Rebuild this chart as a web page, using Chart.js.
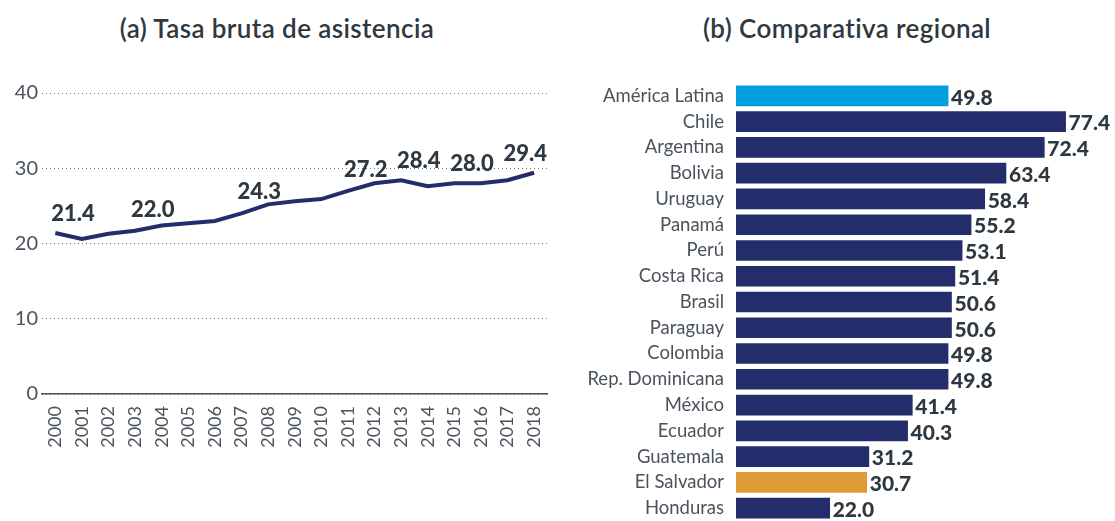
<!DOCTYPE html>
<html>
<head>
<meta charset="utf-8">
<script src="https://cdn.jsdelivr.net/npm/chart.js@4.4.0/dist/chart.umd.min.js"></script>
<style>
  body { margin: 0; background: #fff; font-family: Lato, sans-serif; }
  .title { position: absolute; top: 12px; font-size: 26px; font-weight: 600; color: #2e3841; text-align: center; letter-spacing: 0.4px; }
</style>
</head>
<body>
<div class="title" style="left:0;width:554px;">(a) Tasa bruta de asistencia</div>
<div class="title" style="left:570px;width:554px;">(b) Comparativa regional</div>
<canvas id="lineChart" width="560" height="521" style="position:absolute;left:0;top:0;"></canvas>
<canvas id="barChart" width="545" height="521" style="position:absolute;left:570px;top:0;"></canvas>
<script>
// (a) serie anual
var years = ['2000','2001','2002','2003','2004','2005','2006','2007','2008','2009',
             '2010','2011','2012','2013','2014','2015','2016','2017','2018'];
var tasa = [21.4, 20.6, 21.3, 21.7, 22.4, 22.7, 23.0, 24.0, 25.2, 25.6,
            25.9, 27.0, 28.0, 28.4, 27.6, 28.0, 28.0, 28.4, 29.4];
var yTicks = [0, 10, 20, 30, 40];
// etiquetas sobre la linea
var labelIdx = [0, 3, 7, 11, 13, 15, 17];
var labelVals = [21.4, 22.0, 24.3, 27.2, 28.4, 28.0, 29.4];

// (b) comparativa regional
var paises = ['América Latina','Chile','Argentina','Bolivia','Uruguay','Panamá','Perú',
              'Costa Rica','Brasil','Paraguay','Colombia','Rep. Dominicana','México',
              'Ecuador','Guatemala','El Salvador','Honduras'];
var valores = [49.8, 77.4, 72.4, 63.4, 58.4, 55.2, 53.1, 51.4, 50.6, 50.6, 49.8, 49.8,
               41.4, 40.3, 31.2, 30.7, 22.0];

var navy = '#232d6b';
var textDark = '#2e3841';
var tickGray = '#4a535d';

var barColors = paises.map(function (p) {
    if (p === 'América Latina') return '#009fe0';
    if (p === 'El Salvador') return '#e09a36';
    return navy;
});

var lineLabels = {
    id: 'lineLabels',
    afterDatasetsDraw: function (chart) {
        var ctx = chart.ctx;
        var xs = chart.scales.x, ys = chart.scales.y;
        ctx.save();
        ctx.font = '900 22px Lato';
        ctx.fillStyle = textDark;
        ctx.textAlign = 'left';
        ctx.textBaseline = 'middle';
        for (var i = 0; i < labelIdx.length; i++) {
            var x = xs.getPixelForValue(labelIdx[i]) - 4;
            var y = ys.getPixelForValue(labelVals[i]) - 19;
            ctx.fillText(labelVals[i].toFixed(1), x, y);
        }
        ctx.restore();
    }
};

var barLabels = {
    id: 'barLabels',
    afterDatasetsDraw: function (chart) {
        var ctx = chart.ctx;
        var meta = chart.getDatasetMeta(0);
        ctx.save();
        ctx.font = '900 21px Lato';
        ctx.fillStyle = textDark;
        ctx.textAlign = 'left';
        ctx.textBaseline = 'middle';
        meta.data.forEach(function (bar, i) {
            ctx.fillText(valores[i].toFixed(1), bar.x + 3, bar.y + 2);
        });
        ctx.restore();
    }
};

new Chart(document.getElementById('lineChart').getContext('2d'), {
    type: 'line',
    data: {
        labels: years,
        datasets: [{
            data: tasa,
            borderColor: navy,
            borderWidth: 4,
            pointRadius: 0,
            tension: 0,
            fill: false
        }]
    },
    options: {
        responsive: false,
        animation: false,
        layout: { padding: { top: 93, right: 12, left: 0, bottom: 0 } },
        plugins: { legend: { display: false }, tooltip: { enabled: false } },
        scales: {
            x: {
                offset: true,
                grid: { display: false },
                border: { display: true, color: '#4a535d', width: 1.5 },
                ticks: {
                    color: tickGray,
                    font: { family: 'Lato', size: 18 },
                    maxRotation: 90,
                    minRotation: 90,
                    padding: 4,
                    autoSkip: false
                },
                afterFit: function (scale) { scale.height = 127; }
            },
            y: {
                min: 0,
                max: 40,
                afterBuildTicks: function (scale) {
                    scale.ticks = yTicks.map(function (v) { return { value: v }; });
                },
                grid: {
                    color: '#6b7178',
                    lineWidth: 1,
                    drawTicks: false
                },
                border: { display: false, dash: [1, 3] },
                ticks: {
                    color: tickGray,
                    font: { family: 'Lato', size: 20 },
                    padding: 4
                },
                afterFit: function (scale) { scale.width = 42; }
            }
        }
    },
    plugins: [lineLabels]
});

new Chart(document.getElementById('barChart').getContext('2d'), {
    type: 'bar',
    data: {
        labels: paises,
        datasets: [{
            data: valores,
            backgroundColor: barColors,
            barThickness: 20
        }]
    },
    options: {
        indexAxis: 'y',
        responsive: false,
        animation: false,
        layout: { padding: { top: 83, right: 0, left: 0, bottom: 0 } },
        plugins: { legend: { display: false }, tooltip: { enabled: false } },
        scales: {
            x: { display: false, min: 0, max: 89 },
            y: {
                grid: { display: false, drawTicks: false },
                border: { display: false },
                ticks: {
                    color: tickGray,
                    font: { family: 'Lato', size: 18.5 },
                    padding: 12,
                    autoSkip: false
                },
                afterFit: function (scale) {
                    scale.width = 166;
                    scale.paddingTop = 0;
                    scale.paddingBottom = 0;
                }
            }
        }
    },
    plugins: [barLabels]
});
</script>
</body>
</html>
